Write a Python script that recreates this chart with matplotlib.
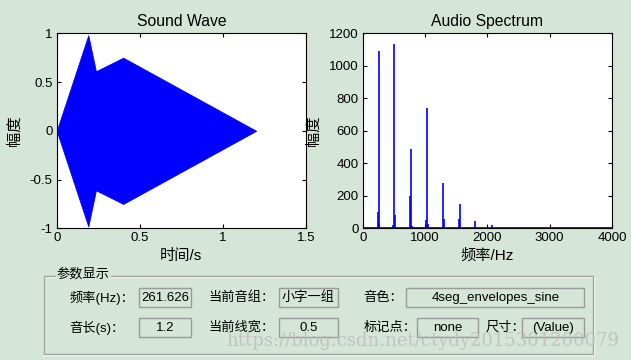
import matplotlib
matplotlib.use("Agg")
import matplotlib.pyplot as plt
from matplotlib.patches import Rectangle

plt.rcParams['font.family'] = ['Liberation Sans', 'Noto Sans CJK SC', 'DejaVu Sans']

# ---- data ----
env_t = [0.0, 0.19, 0.236, 0.40, 1.2]
env_amp = [0.0, 0.98, 0.61, 0.75, 0.0]

peak_freqs = [255, 505, 777, 1032, 1287, 1559, 1809, 2069]
peak_mags = [1090, 1135, 488, 740, 278, 150, 45, 18]
lobe_freqs = [239, 266, 490, 521, 761, 792, 1016, 1048, 1303, 1543]
lobe_mags = [100, 30, 20, 82, 199, 15, 51, 27, 57, 57]
noise_floor = [4, 4]
noise_range = [0, 4000]

wave_xticks = [0, 0.5, 1, 1.5]
wave_yticks = [-1, -0.5, 0, 0.5, 1]
spec_xticks = [0, 1000, 2000, 3000, 4000]
spec_yticks = [0, 200, 400, 600, 800, 1000, 1200]

param_labels_row1 = ["频率(Hz)：", "当前音组：", "音色："]
param_values_row1 = ["261.626", "小字一组", "4seg_envelopes_sine"]
param_labels_row2 = ["音长(s)：", "当前线宽：", "标记点：", "尺寸："]
param_values_row2 = ["1.2", "0.5", "none", "(Value)"]

BG = '#d5e6d8'
W, H = 631, 360

fig = plt.figure(figsize=(6.31, 3.60), dpi=100, facecolor=BG)

def fx(x):
    return x / W

def fy(y):
    return 1 - y / H

def style_axes(ax):
    ax.set_facecolor('white')
    ax.tick_params(direction='in', top=True, right=True, length=3, labelsize=9.5, pad=3,
                   colors='black')
    for s in ax.spines.values():
        s.set_linewidth(0.8)

# Sound wave
ax1 = fig.add_axes([fx(56.7), fy(228.3), (306 - 56.7) / W, (228.3 - 33.3) / H])
ax1.fill_between(env_t, [-a for a in env_amp], env_amp, color='#0000ff', linewidth=0.6,
                 edgecolor='#0000ff')
ax1.set_xlim(0, 1.5)
ax1.set_ylim(-1, 1)
ax1.set_xticks(wave_xticks)
ax1.set_xticklabels(['0', '0.5', '1', '1.5'])
ax1.set_yticks(wave_yticks)
ax1.set_yticklabels(['-1', '-0.5', '0', '0.5', '1'])
style_axes(ax1)
ax1.set_title('Sound Wave', fontsize=11.3, pad=5)
ax1.set_xlabel('时间/s', fontsize=11, labelpad=3)
ax1.set_ylabel('幅度', fontsize=11, labelpad=6)

# Spectrum
ax2 = fig.add_axes([fx(362.7), fy(228.3), (612 - 362.7) / W, (228.3 - 33.3) / H])
ax2.plot(noise_range, noise_floor, color='#0000ff', linewidth=2.0)
ax2.vlines(lobe_freqs, 0, lobe_mags, color='#0000ff', linewidth=1.2)
ax2.vlines(peak_freqs, 0, peak_mags, color='#0000ff', linewidth=1.2)
ax2.set_xlim(0, 4000)
ax2.set_ylim(0, 1200)
ax2.set_xticks(spec_xticks)
ax2.set_yticks(spec_yticks)
style_axes(ax2)
ax2.set_title('Audio Spectrum', fontsize=11.3, pad=5)
ax2.set_xlabel('频率/Hz', fontsize=11, labelpad=3)
ax2.set_ylabel('幅度', fontsize=11, labelpad=6)

# Parameter panel (group box, etched look)
gb2 = Rectangle((fx(44.5), fy(355)), (592.7 - 43.5) / W, (354 - 276) / H,
                transform=fig.transFigure, fill=False, edgecolor='white', linewidth=1.0)
fig.add_artist(gb2)
gb = Rectangle((fx(43.5), fy(354)), (592.7 - 43.5) / W, (354 - 276) / H,
               transform=fig.transFigure, fill=False, edgecolor='#a0a0a0', linewidth=1.0)
fig.add_artist(gb)
fig.text(fx(57), fy(274), '参数显示', fontsize=9.5, ha='left', va='center',
         bbox=dict(facecolor=BG, edgecolor='none', pad=1.0))

def value_box(x0, x1, y0, y1, text):
    r = Rectangle((fx(x0), fy(y1)), (x1 - x0) / W, (y1 - y0) / H,
                  transform=fig.transFigure, fill=False, edgecolor='#9a9a9a', linewidth=1.0)
    fig.add_artist(r)
    fig.text(fx((x0 + x1) / 2), fy((y0 + y1) / 2), text, fontsize=9.5,
             ha='center', va='center')

row1_y = (288.3, 307.3)
row2_y = (318.3, 337.3)
lab1_x = [69.6, 208, 363.4]
box1_x = [(138.8, 191), (278.5, 338), (406.4, 584.3)]
lab2_x = [69.6, 208, 363.4, 485.7]
box2_x = [(138.8, 191), (278.5, 338), (417.3, 477.7), (521.5, 584.3)]

for lx, lab, (b0, b1), val in zip(lab1_x, param_labels_row1, box1_x, param_values_row1):
    fig.text(fx(lx), fy(sum(row1_y) / 2), lab, fontsize=9.5, ha='left', va='center')
    value_box(b0, b1, row1_y[0], row1_y[1], val)

for lx, lab, (b0, b1), val in zip(lab2_x, param_labels_row2, box2_x, param_values_row2):
    fig.text(fx(lx), fy(sum(row2_y) / 2), lab, fontsize=9.5, ha='left', va='center')
    value_box(b0, b1, row2_y[0], row2_y[1], val)

# watermark
fig.text(fx(619), fy(341), 'https://blog.csdn.net/ctydy2015301200079', fontsize=13,
         family=['DejaVu Serif'], color='#bdbdbd', alpha=0.85,
         ha='right', va='center')

fig.savefig('out.png', dpi=100, facecolor=BG)
